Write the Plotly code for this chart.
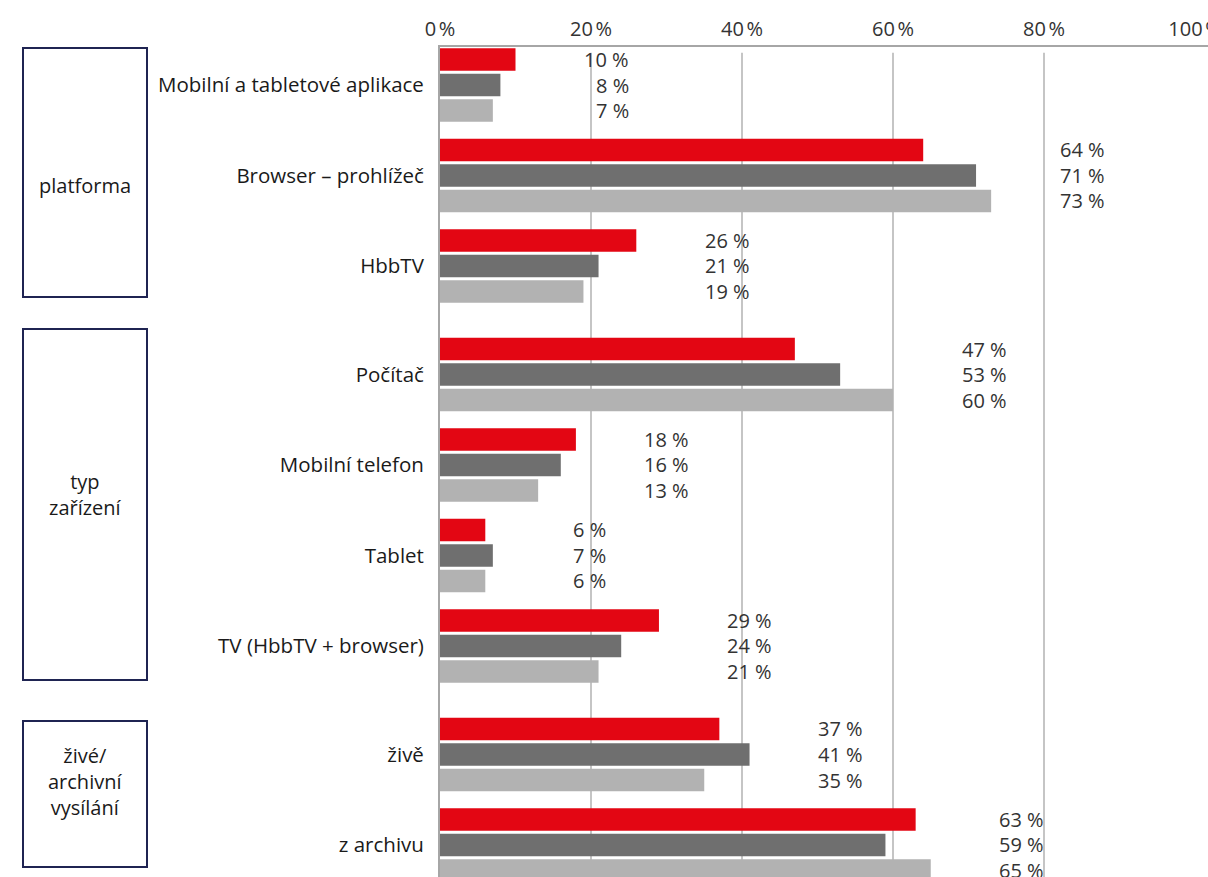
import plotly.graph_objects as go

# Categories (top to bottom) and their group membership
categories = [
    "Mobilní a tabletové aplikace",
    "Browser – prohlížeč",
    "HbbTV",
    "Počítač",
    "Mobilní telefon",
    "Tablet",
    "TV (HbbTV + browser)",
    "živě",
    "z archivu",
]
groups = [
    ("platforma", 0, 2),
    ("typ<br>zařízení", 3, 6),
    ("živé/<br>archivní<br>vysílání", 7, 8),
]

# Three series (percent)
series_a = [10, 64, 26, 47, 18, 6, 29, 37, 63]
series_b = [8, 71, 21, 53, 16, 7, 24, 41, 59]
series_c = [7, 73, 19, 60, 13, 6, 21, 35, 65]
series_names = ["období 1", "období 2", "období 3"]
x_ticks = [0, 20, 40, 60, 80, 100]
x_tick_labels = ["0\u202f%", "20\u202f%", "40\u202f%", "60\u202f%", "80\u202f%", "100\u202f%"]

colors = ["#E30613", "#6F6F6F", "#B2B2B2"]
FONT = "Open Sans"
TEXT = "#1a1a1a"

# Vertical layout: rows within a group are 1 unit apart, groups get extra space
GROUP_GAP = 0.2
positions = []
for gi, (_, first, last) in enumerate(groups):
    for k in range(first, last + 1):
        positions.append(k + gi * GROUP_GAP)

BARGAP = 0.154
slot = (1 - BARGAP) / 3
y_range = [positions[-1] + 0.354, -0.42]

W, H = 1208, 877
M_L, M_R, M_T, M_B = 440, 0, 47, 0
PX_PER_PCT = 7.55
x_range = [0, (W - M_L - M_R) / PX_PER_PCT]

fig = go.Figure()
all_series = [series_a, series_b, series_c]
for vals, name, col in zip(all_series, series_names, colors):
    fig.add_trace(go.Bar(
        x=vals, y=positions, orientation="h", name=name,
        marker=dict(color=col, line=dict(width=0)),
        showlegend=False, hoverinfo="x+name",
    ))

# Value labels, right-aligned in a column beyond the longest bar of each category
LABEL_OFFSET = 15.3
annotations = []
for ci, pos in enumerate(positions):
    col_x = max(s[ci] for s in all_series) + LABEL_OFFSET
    for si, s in enumerate(all_series):
        annotations.append(dict(
            x=col_x, y=pos + (si - 1) * slot, xref="x", yref="y",
            text=f"{s[ci]} %", showarrow=False, xanchor="right", yanchor="middle",
            font=dict(family=FONT, size=20, color="#333333"),
        ))

# Gridlines (20–80 %) drawn slightly below the top axis line
shapes = []
for gx in x_ticks[1:-1]:
    shapes.append(dict(type="line", xref="x", yref="paper", x0=gx, x1=gx,
                       y0=0, y1=0.993, line=dict(color="#A6A6A6", width=1.3),
                       layer="below"))

# Group boxes at the far left
plot_w = W - M_L - M_R
plot_h = H - M_T - M_B


def px_x(p):
    return (p - M_L) / plot_w


def px_y(p):
    return 1 - (p - M_T) / plot_h


box_px = [(48, 297), (329, 680), (721, 867)]
label_px = [186, 494, 781]
for (label, _, _), (top, bottom), ly in zip(groups, box_px, label_px):
    shapes.append(dict(type="rect", xref="paper", yref="paper",
                       x0=px_x(23), x1=px_x(147), y0=px_y(bottom), y1=px_y(top),
                       line=dict(color="#1F2452", width=2), fillcolor="rgba(0,0,0,0)"))
    annotations.append(dict(
        x=px_x(85), y=px_y(ly), xref="paper", yref="paper",
        text=label, showarrow=False, xanchor="center", yanchor="middle",
        align="center", font=dict(family=FONT, size=20, color=TEXT),
    ))

fig.update_layout(
    width=W, height=H,
    margin=dict(l=M_L, r=M_R, t=M_T, b=M_B, pad=0, autoexpand=False),
    paper_bgcolor="white", plot_bgcolor="white",
    barmode="group", bargap=BARGAP, bargroupgap=0.12,
    font=dict(family=FONT, size=20, color=TEXT),
    shapes=shapes, annotations=annotations,
    xaxis=dict(
        side="top", range=x_range, tickvals=x_ticks, ticktext=x_tick_labels,
        showgrid=False, zeroline=False, showline=True, linecolor="#A6A6A6",
        linewidth=2, ticks="", ticklabelstandoff=1, ticklabeloverflow="allow",
        automargin=False,
        tickfont=dict(family=FONT, size=20, color="#333333"),
    ),
    yaxis=dict(
        range=y_range, tickvals=positions, ticktext=categories,
        showgrid=False, zeroline=False, showline=True, linecolor="#A6A6A6",
        linewidth=2, ticks="", ticklabelstandoff=10, automargin=False,
        tickfont=dict(family=FONT, size=20.5, color=TEXT),
    ),
)

fig.write_html("out.html")
